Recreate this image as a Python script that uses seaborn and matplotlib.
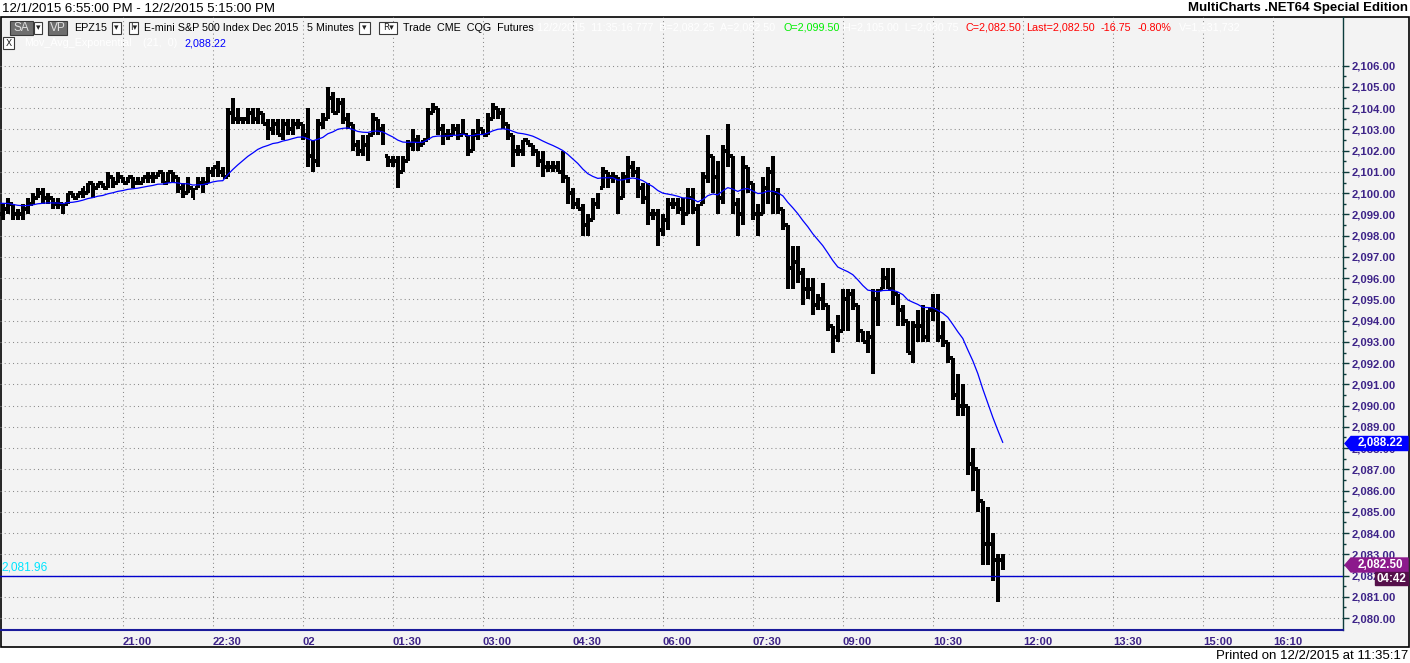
import matplotlib
matplotlib.use("Agg")
import matplotlib.pyplot as plt
from matplotlib import font_manager
from matplotlib.patches import Rectangle, Polygon
import seaborn as sns
import pandas as pd

# 5 MINUTE BARS, EPZ15, 12/1 18:55 -> 12/2 11:40
opens = [
    2099.25, 2099.0, 2099.25, 2099.5, 2099.0, 2099.0, 2099.25, 2099.5, 2099.75, 2100.0,
    2099.75, 2099.75, 2099.5, 2099.5, 2099.5, 2100.0, 2099.75, 2100.0, 2100.0, 2100.5,
    2100.25, 2100.5, 2100.25, 2100.75, 2100.5, 2100.75, 2100.5, 2100.75, 2100.5, 2100.5,
    2100.75, 2100.75, 2100.75, 2101.0, 2100.5, 2101.0, 2100.75, 2100.25, 2100.0, 2100.25,
    2100.25, 2100.5, 2100.5, 2101.0, 2101.25, 2101.0, 2100.75, 2103.75, 2103.5, 2103.5,
    2103.5, 2103.75, 2103.5, 2103.75, 2103.25, 2103.0, 2103.25, 2102.75, 2103.25, 2103.0,
    2103.25, 2103.25, 2102.75, 2101.75, 2101.5, 2103.25, 2103.5, 2104.5, 2103.75, 2104.25,
    2103.5, 2103.25, 2102.25, 2102.0, 2102.25, 2102.75, 2103.5, 2103.0, 2101.75, 2101.5,
    2101.5, 2101.0, 2101.5, 2102.25, 2102.5, 2102.25, 2102.5, 2103.75, 2104.0, 2103.0,
    2102.75, 2102.75, 2103.0, 2102.75, 2102.75, 2102.0, 2102.75, 2103.0, 2102.75, 2103.5,
    2104.0, 2103.75, 2103.25, 2102.75, 2102.0, 2102.0, 2102.5, 2102.25, 2102.0, 2101.5,
    2101.25, 2101.25, 2101.25, 2101.0, 2100.75, 2100.0, 2099.5, 2099.25, 2098.5, 2098.75,
    2099.5, 2100.25, 2101.0, 2100.75, 2100.75, 2099.75, 2100.75, 2101.25, 2101.0, 2100.25,
    2099.75, 2099.0, 2099.0, 2098.25, 2098.75, 2099.5, 2099.5, 2099.25, 2099.0, 2099.75,
    2099.25, 2099.5, 2100.75, 2101.75, 2100.75, 2099.75, 2102.0, 2101.75, 2099.5, 2099.0,
    2101.25, 2100.5, 2099.0, 2099.0, 2100.25, 2101.0, 2100.0, 2099.25, 2098.5, 2096.5,
    2096.75, 2096.25, 2095.5, 2095.5, 2094.75, 2095.0, 2094.75, 2093.75, 2093.25, 2093.5,
    2095.0, 2095.25, 2094.75, 2093.5, 2093.0, 2093.25, 2095.0, 2095.5, 2096.0, 2095.5,
    2095.25, 2094.5, 2094.0, 2092.5, 2093.75, 2093.75, 2093.25, 2094.5, 2094.5, 2093.25,
    2093.0, 2092.25, 2090.5, 2090.0, 2090.0, 2087.25, 2087.0, 2085.5, 2083.5, 2083.5,
    2082.75, 2082.75,
]
highs = [
    2099.5, 2099.5, 2099.75, 2099.5, 2099.25, 2099.5, 2099.75, 2100.0, 2100.25, 2100.25,
    2100.0, 2099.75, 2099.75, 2099.5, 2100.0, 2100.0, 2100.0, 2100.25, 2100.5, 2100.5,
    2100.5, 2100.5, 2101.0, 2100.75, 2101.0, 2100.75, 2100.75, 2100.75, 2100.75, 2100.75,
    2101.0, 2101.0, 2101.0, 2101.0, 2101.0, 2101.0, 2100.75, 2100.5, 2100.75, 2100.25,
    2100.75, 2100.75, 2101.25, 2101.25, 2101.5, 2101.25, 2104.0, 2104.5, 2104.0, 2103.5,
    2104.0, 2104.0, 2104.0, 2103.75, 2103.5, 2103.5, 2103.5, 2103.5, 2103.5, 2103.5,
    2103.5, 2103.25, 2104.0, 2102.5, 2103.5, 2103.75, 2105.0, 2104.75, 2104.5, 2104.5,
    2103.75, 2103.25, 2102.5, 2102.75, 2102.75, 2103.75, 2103.5, 2103.25, 2101.75, 2101.75,
    2101.75, 2101.75, 2102.5, 2103.0, 2102.75, 2102.5, 2104.0, 2104.25, 2104.0, 2103.25,
    2103.0, 2103.25, 2103.25, 2103.5, 2102.75, 2103.0, 2103.5, 2103.0, 2103.75, 2104.25,
    2104.0, 2104.0, 2103.25, 2102.75, 2102.25, 2102.5, 2102.5, 2102.25, 2102.0, 2102.0,
    2101.5, 2101.5, 2101.5, 2102.0, 2100.75, 2100.25, 2099.75, 2099.5, 2099.0, 2099.75,
    2100.0, 2101.25, 2101.0, 2101.0, 2100.75, 2101.0, 2101.75, 2101.5, 2101.25, 2100.5,
    2100.5, 2099.25, 2099.25, 2099.0, 2099.75, 2099.75, 2099.75, 2099.75, 2100.25, 2100.25,
    2099.5, 2101.0, 2102.75, 2101.75, 2101.5, 2102.25, 2103.25, 2101.75, 2099.75, 2101.75,
    2101.25, 2100.5, 2099.5, 2100.75, 2101.25, 2101.75, 2100.25, 2099.25, 2098.5, 2097.5,
    2097.5, 2096.5, 2096.0, 2096.0, 2095.25, 2095.75, 2094.75, 2093.75, 2094.25, 2095.5,
    2095.5, 2095.5, 2094.75, 2093.5, 2093.5, 2095.5, 2095.5, 2096.5, 2096.5, 2096.5,
    2095.25, 2094.75, 2094.0, 2094.0, 2094.5, 2094.75, 2094.5, 2095.25, 2095.25, 2094.0,
    2093.0, 2092.25, 2091.5, 2091.0, 2090.0, 2088.0, 2087.0, 2085.5, 2085.25, 2084.0,
    2083.0, 2083.0,
]
lows = [
    2098.75, 2098.75, 2099.0, 2098.75, 2098.75, 2098.75, 2099.0, 2099.5, 2099.75, 2099.5,
    2099.5, 2099.25, 2099.25, 2099.0, 2099.5, 2099.75, 2099.75, 2099.75, 2100.0, 2099.75,
    2100.25, 2100.25, 2100.25, 2100.25, 2100.5, 2100.5, 2100.5, 2100.25, 2100.5, 2100.5,
    2100.5, 2100.5, 2100.75, 2100.5, 2100.5, 2100.5, 2100.0, 2099.75, 2100.0, 2099.75,
    2100.25, 2100.0, 2100.5, 2100.75, 2100.75, 2100.75, 2100.75, 2103.25, 2103.25, 2103.25,
    2103.25, 2103.25, 2103.25, 2103.25, 2102.5, 2102.75, 2102.75, 2102.5, 2102.75, 2102.75,
    2103.0, 2102.5, 2101.25, 2101.0, 2101.25, 2103.0, 2103.5, 2103.75, 2103.75, 2103.25,
    2103.0, 2102.0, 2101.75, 2101.75, 2101.5, 2102.75, 2102.75, 2102.25, 2101.25, 2101.25,
    2100.25, 2101.0, 2101.5, 2102.0, 2102.0, 2102.25, 2102.5, 2103.75, 2102.75, 2102.25,
    2102.5, 2102.75, 2102.5, 2102.75, 2101.75, 2102.0, 2102.5, 2102.75, 2102.75, 2103.5,
    2103.5, 2103.0, 2102.5, 2101.25, 2101.75, 2101.75, 2102.25, 2101.75, 2101.25, 2100.75,
    2101.0, 2101.0, 2101.0, 2100.5, 2099.5, 2099.25, 2099.25, 2098.0, 2098.0, 2098.75,
    2099.25, 2100.25, 2100.25, 2100.5, 2099.0, 2099.75, 2100.5, 2100.75, 2099.75, 2099.5,
    2098.5, 2098.75, 2097.5, 2098.0, 2098.25, 2099.25, 2099.0, 2098.5, 2099.0, 2099.0,
    2097.5, 2099.5, 2100.5, 2100.0, 2099.0, 2099.5, 2101.25, 2099.0, 2098.0, 2098.5,
    2100.0, 2098.75, 2098.0, 2099.0, 2099.5, 2099.0, 2099.0, 2098.25, 2095.5, 2095.5,
    2095.75, 2094.75, 2095.0, 2094.25, 2094.5, 2094.5, 2093.5, 2092.5, 2093.0, 2093.5,
    2093.5, 2094.5, 2093.0, 2093.0, 2092.5, 2091.5, 2093.75, 2095.5, 2095.5, 2094.75,
    2093.75, 2093.75, 2092.5, 2092.0, 2093.0, 2093.0, 2093.0, 2094.0, 2093.0, 2092.75,
    2092.0, 2090.25, 2089.5, 2089.5, 2086.75, 2086.0, 2085.0, 2082.5, 2082.5, 2081.75,
    2080.75, 2082.25,
]
closes = [
    2099.0, 2099.25, 2099.5, 2099.0, 2099.0, 2099.25, 2099.5, 2099.75, 2100.0, 2099.75,
    2099.75, 2099.5, 2099.5, 2099.25, 2100.0, 2099.75, 2100.0, 2100.25, 2100.5, 2100.25,
    2100.5, 2100.25, 2100.75, 2100.5, 2100.75, 2100.5, 2100.75, 2100.5, 2100.5, 2100.75,
    2100.75, 2100.75, 2101.0, 2100.5, 2101.0, 2100.75, 2100.25, 2100.0, 2100.5, 2099.75,
    2100.5, 2100.5, 2101.0, 2101.25, 2101.0, 2100.75, 2103.75, 2103.5, 2103.5, 2103.5,
    2103.75, 2103.5, 2103.75, 2103.25, 2103.0, 2103.25, 2102.75, 2103.25, 2103.0, 2103.25,
    2103.25, 2102.75, 2101.75, 2101.5, 2103.25, 2103.5, 2104.5, 2103.75, 2104.25, 2103.5,
    2103.25, 2102.25, 2102.0, 2102.5, 2102.75, 2103.5, 2103.0, 2102.5, 2101.5, 2101.5,
    2101.0, 2101.5, 2102.25, 2102.5, 2102.25, 2102.5, 2103.75, 2104.0, 2103.0, 2102.75,
    2102.75, 2103.0, 2102.75, 2103.25, 2102.0, 2102.75, 2103.25, 2102.75, 2103.5, 2104.0,
    2103.75, 2103.25, 2102.75, 2102.0, 2102.0, 2102.5, 2102.25, 2102.0, 2101.5, 2101.25,
    2101.25, 2101.25, 2101.0, 2100.75, 2100.0, 2099.5, 2099.25, 2098.5, 2098.75, 2099.5,
    2099.75, 2101.0, 2100.75, 2100.75, 2099.5, 2100.75, 2101.25, 2101.0, 2100.25, 2099.75,
    2099.0, 2099.0, 2098.25, 2098.75, 2099.5, 2099.5, 2099.25, 2099.0, 2099.75, 2099.25,
    2098.25, 2100.75, 2101.75, 2100.75, 2099.5, 2102.0, 2101.75, 2099.5, 2099.0, 2101.25,
    2100.5, 2099.0, 2098.75, 2100.25, 2101.0, 2100.0, 2099.25, 2098.5, 2096.5, 2096.75,
    2096.25, 2095.5, 2095.5, 2094.75, 2095.0, 2094.75, 2093.75, 2093.25, 2093.5, 2095.25,
    2095.25, 2094.75, 2093.5, 2093.0, 2093.25, 2095.0, 2095.0, 2096.0, 2095.5, 2095.5,
    2094.5, 2094.0, 2092.5, 2093.75, 2093.75, 2093.25, 2094.5, 2094.5, 2093.25, 2093.0,
    2092.25, 2090.5, 2090.0, 2090.0, 2087.25, 2087.0, 2085.5, 2083.5, 2083.5, 2082.75,
    2082.75, 2082.5,
]

ema_seed = 2099.60          # value of the 21 bar EMA at the left edge
ema_length = 21
marker_line = 2081.96

time_labels = ["21:00", "22:30", "02", "01:30", "03:00", "04:30", "06:00",
               "07:30", "09:00", "10:30", "12:00", "13:30", "15:00", "16:10"]
label_stamps = ["2015-12-01 21:00", "2015-12-01 22:30", "2015-12-02 00:00",
                "2015-12-02 01:30", "2015-12-02 03:00", "2015-12-02 04:30",
                "2015-12-02 06:00", "2015-12-02 07:30", "2015-12-02 09:00",
                "2015-12-02 10:30", "2015-12-02 12:00", "2015-12-02 13:30",
                "2015-12-02 15:00", "2015-12-02 16:10"]
price_ticks = list(range(2080, 2107))

# BUILD THE TABLE
start = pd.Timestamp("2015-12-01 18:55")
times = pd.date_range(start, periods=len(closes), freq="5min")
df = pd.DataFrame({"time": times, "open": opens, "high": highs, "low": lows, "close": closes})
df["t"] = (df["time"] - start).dt.total_seconds() / 60

ema = []
prev = ema_seed
for c in closes:
    prev = prev + (c - prev) * 2 / (ema_length + 1)
    ema.append(prev)
df["ema"] = ema

label_pos = [(pd.Timestamp(s) - start).total_seconds() / 60 for s in label_stamps]

# FONTS
names = {f.name for f in font_manager.fontManager.ttflist}
if "Liberation Sans Narrow" in names:
    NARROW, K = "Liberation Sans Narrow", 1.1
else:
    NARROW, K = "Liberation Sans", 0.95

sns.set_style("white")
plt.rcParams["font.family"] = [NARROW, "DejaVu Sans"]

W, H = 1410, 663
BG = "#f3f3f3"
AXC = "#3d2388"
fig = plt.figure(figsize=(W / 100, H / 100), dpi=100, facecolor="white")

# BACKGROUND FRAME
bg = fig.add_axes([0, 0, 1, 1], zorder=0)
bg.set_xlim(0, W)
bg.set_ylim(H, 0)
bg.axis("off")
bg.add_patch(Rectangle((0.5, 17), W - 1.5, 630, facecolor=BG, edgecolor="black", lw=1.2))

# MAIN CHART AXES (1 px per minute)
ax = fig.add_axes([0, 1 - 630 / H, 1343 / W, 613 / H], zorder=1)
ax.patch.set_visible(False)
ax.set_xlim(2.2, 1345.2)
ax.set_ylim(2079.44, 2108.29)

lc = ax.vlines(df["t"], df["low"], df["high"], color="black", lw=1.45, antialiased=False)
lc.set_capstyle("butt")
ax.hlines(df["open"], df["t"] - 2.6, df["t"], color="black", lw=1.45, antialiased=False)
ax.hlines(df["close"], df["t"], df["t"] + 2.6, color="black", lw=1.45, antialiased=False)

sns.lineplot(data=df, x="t", y="ema", ax=ax, color="#0000ff", lw=0.9, estimator=None)
ax.axhline(marker_line, color="#0000cc", lw=1.0)

ax.set_xticks(label_pos)
ax.set_xticklabels(time_labels, ha="left", color=AXC, fontsize=8.5 * K, fontweight="bold")
ax.set_yticks(price_ticks)
ax.set_yticklabels([f"{p:,.2f}" for p in price_ticks], color=AXC, fontsize=8.5 * K, fontweight="bold")
ax.set_yticks([p + 0.5 for p in price_ticks[:-1]], minor=True)
ax.yaxis.tick_right()
ax.tick_params(axis="y", which="major", length=4, width=1, color="#0b3b3b", pad=2)
ax.tick_params(axis="y", which="minor", length=2, width=1, color="#0b3b3b")
ax.tick_params(axis="x", which="major", length=3, width=1, color="#1a1a9a", pad=2)
ax.set_xlabel("")
ax.set_ylabel("")
ax.grid(True, which="major", color="#8a8a8a", lw=0.75, linestyle=(0, (1, 3)))
ax.set_axisbelow(True)
for side in ["top", "left"]:
    ax.spines[side].set_visible(False)
ax.spines["right"].set_color("#0b3b3b")
ax.spines["right"].set_linewidth(1.0)
ax.spines["bottom"].set_color("#1a1a9a")
ax.spines["bottom"].set_linewidth(1.5)

# OVERLAY: HEADER, MARKERS, CAPTIONS
ov = fig.add_axes([0, 0, 1, 1], zorder=3)
ov.set_xlim(0, W)
ov.set_ylim(H, 0)
ov.axis("off")
ov.patch.set_alpha(0)


def txt(x, y, s, color="black", size=8.2, ha="left", weight="normal"):
    ov.text(x, y, s, color=color, fontsize=size * K, ha=ha, va="center", fontweight=weight)


def button(x, y, w, h, s, dark=False):
    fc = "#6e6e6e" if dark else "white"
    ov.add_patch(Rectangle((x, y), w, h, facecolor=fc, edgecolor="#3a3a3a", lw=0.8))
    if dark:
        txt(x + w / 2, y + h / 2, s, color="#e0e0e0", size=9, ha="center")
    else:
        ov.text(x + w / 2, y + h / 2, s, fontsize=6.5, ha="center", va="center",
                family="DejaVu Sans", color="#222222")


txt(2, 8.5, "12/1/2015 6:55:00 PM - 12/2/2015 5:15:00 PM", size=10)
txt(1408, 8.5, "MultiCharts .NET64 Special Edition", size=10, ha="right", weight="bold")
txt(1408, 656, "Printed on 12/2/2015 at 11:35:17", size=10, ha="right")

button(10, 21, 23, 14, "SA", dark=True)
button(34, 22, 8, 12, "▾")
button(48, 21, 19, 14, "VP", dark=True)
txt(74, 28, "EPZ15")
button(112, 22, 9, 12, "▾")
button(129, 22, 9, 12, "I▾")
txt(144, 28, "E-mini S&P 500 Index Dec 2015")
txt(307, 28, "5 Minutes")
button(359, 22, 11, 12, "▾")
button(379, 22, 18, 12, "R▾")
txt(403, 28, "Trade  CME  CQG  Futures")
txt(537, 28, "12/2/2015  11:35:16.777  B=2,082.25  A=2,082.50", color="white")
txt(783, 28, "O=2,099.50", color="#00ee00")
txt(843, 28, "H=2,105.00  L=2,080.75", color="white")
txt(966, 28, "C=2,082.50", color="#ff0000")
txt(1026, 28, "Last=2,082.50", color="#ff0000")
txt(1101, 28, "-16.75", color="#ff0000")
txt(1138, 28, "-0.80%", color="#ff0000")
txt(1179, 28, "V=1,131,732", color="white")

button(3, 37, 11, 12, "X")
txt(24, 43, "Mov_Avg_Exponential", color="white")
txt(143, 43, "(21,  0)", color="white")
txt(184, 43, "2,088.22", color="#0000ff")

txt(1, 568, "2,081.96", color="#00e5ff", size=9)


def price_flag(y, s, color):
    ov.add_patch(Polygon([(1345, y), (1351, y - 7), (1408, y - 7), (1408, y + 7), (1351, y + 7)],
                         closed=True, facecolor=color, edgecolor=color))
    txt(1380, y, s, color="white", size=8.8, ha="center", weight="bold")


price_flag(443.5, "2,088.22", "#0000ff")
price_flag(565, "2,082.50", "#8c1a8c")
ov.add_patch(Rectangle((1375, 572), 33, 13, facecolor="#55104a", edgecolor="#55104a"))
txt(1391.5, 578.5, "04:42", color="white", size=8.8, ha="center", weight="bold")

fig.savefig("out.png", dpi=100, facecolor="white")
